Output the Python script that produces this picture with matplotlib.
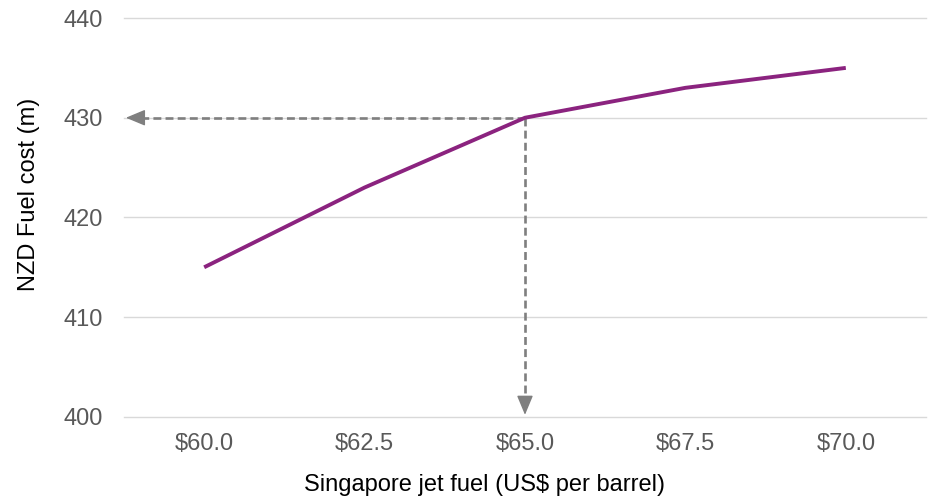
import matplotlib
matplotlib.use("Agg")
import matplotlib.pyplot as plt

plt.rcParams['font.family'] = ['Liberation Sans', 'DejaVu Sans']

# data
prices = ["$60.0", "$62.5", "$65.0", "$67.5", "$70.0"]
fuel_cost = [415, 423, 430, 433, 435]
ref_idx = 2          # $65.0 reference point
y_ticks = [400, 410, 420, 430, 440]

GREY = '#7f7f7f'

fig = plt.figure(figsize=(9.3, 5.01), dpi=100)
ax = fig.add_axes([0.1333, 0.168, 0.8624, 0.796])

x = list(range(len(prices)))
ax.plot(x, fuel_cost, color='#8B237F', linewidth=2.8, solid_capstyle='butt', zorder=3)

# dashed guide lines from the reference point, with solid arrow heads
ref_y = fuel_cost[ref_idx]
left_tip = (-0.488, ref_y)
down_tip = (ref_idx, 400.2)
dash = dict(color=GREY, lw=1.9, linestyle=(0, (3, 1.6)), zorder=2)
ax.plot([ref_idx, left_tip[0] + 0.1], [ref_y, ref_y], **dash)
ax.plot([ref_idx, ref_idx], [ref_y, down_tip[1] + 1.6], **dash)

head = dict(arrowstyle='-|>,head_length=1.2,head_width=0.5', color=GREY,
            lw=1, shrinkA=0, shrinkB=0, mutation_scale=10)
ax.annotate('', xy=left_tip, xytext=(12, 0), textcoords='offset points',
            arrowprops=head, zorder=2)
ax.annotate('', xy=down_tip, xytext=(0, 12), textcoords='offset points',
            arrowprops=head, zorder=2)

ax.set_xlim(-0.5, len(prices) - 0.5)
ax.set_ylim(y_ticks[0], y_ticks[-1])
ax.set_xticks(x)
ax.set_xticklabels(prices)
ax.set_yticks(y_ticks)
ax.tick_params(axis='both', length=0, labelsize=17, labelcolor='#595959')
ax.tick_params(axis='x', pad=12)
ax.tick_params(axis='y', pad=15)
ax.grid(axis='y', color='#d9d9d9', linewidth=1)
for gl in ax.get_ygridlines():
    gl.set_clip_on(False)
ax.set_axisbelow(True)
for s in ax.spines.values():
    s.set_visible(False)

ax.set_ylabel('NZD Fuel cost (m)', fontsize=17, color='black', labelpad=17)
ax.set_xlabel('Singapore jet fuel (US$ per barrel)', fontsize=17, color='black', labelpad=13)
ax.xaxis.label.set_x(0.45)
ax.yaxis.label.set_y(0.559)

plt.savefig('out.png', dpi=100)
